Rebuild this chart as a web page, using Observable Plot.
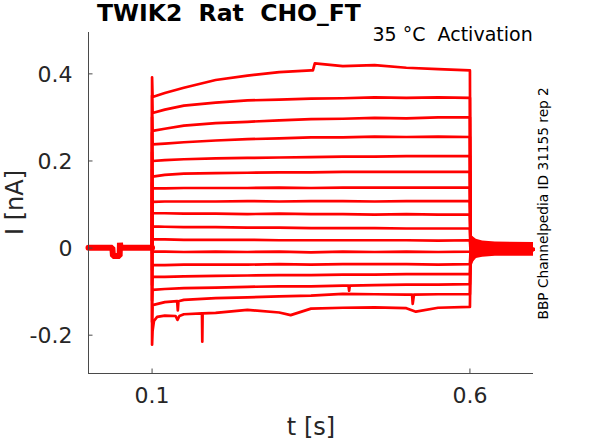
<!DOCTYPE html>
<html>
<head>
<meta charset="utf-8">
<script src="https://cdn.jsdelivr.net/npm/d3@7"></script>
<script src="https://cdn.jsdelivr.net/npm/@observablehq/plot@0.6"></script>
<style>
  html, body { margin: 0; padding: 0; background: #fff; }
  svg text { font-family: "DejaVu Sans", sans-serif; }
</style>
</head>
<body>
<div id="chart"></div>
<script>
// ---- Data ----
const xTicks = [0.1, 0.6];
const yTicks = [-0.2, 0, 0.2, 0.4];
const xDomain = [0, 0.7];
const yDomain = [-0.288, 0.495];

// holding baseline before the step (all sweeps overlap)
const baseT = [0, 0.0375, 0.0385, 0.049, 0.0495, 0.0505, 0.1];
const baseV = [0.0005, 0.0005, -0.018, -0.018, 0.012, 0.0005, 0.0005];

// capacitive peak at step onset, per sweep
const onsetPeak = [0.392, 0.35, 0.30, 0.265, 0.22, 0.18, 0.15, 0.115, 0.085, 0.055, 0.02, -0.012, -0.05, -0.085, -0.12, -0.17, -0.222];

// step current levels at these times, per sweep
const stepTimes = [0.1008, 0.12, 0.15, 0.2, 0.25, 0.3, 0.35, 0.4, 0.45, 0.5, 0.55, 0.6];
const traceLevels = [
  [0.347, 0.356, 0.368, 0.386, 0.396, 0.404, 0.408, 0.418, 0.420, 0.414, 0.411, 0.408],
  [0.310, 0.318, 0.327, 0.334, 0.339, 0.341, 0.343, 0.344, 0.346, 0.345, 0.346, 0.345],
  [0.269, 0.274, 0.281, 0.287, 0.290, 0.293, 0.296, 0.297, 0.299, 0.298, 0.300, 0.300],
  [0.238, 0.240, 0.243, 0.247, 0.250, 0.252, 0.254, 0.254, 0.256, 0.255, 0.256, 0.255],
  [0.200, 0.202, 0.204, 0.206, 0.207, 0.208, 0.209, 0.210, 0.210, 0.211, 0.211, 0.211],
  [0.164, 0.168, 0.171, 0.172, 0.173, 0.174, 0.174, 0.175, 0.175, 0.175, 0.175, 0.175],
  [0.137, 0.137, 0.138, 0.138, 0.138, 0.139, 0.138, 0.139, 0.139, 0.139, 0.139, 0.139],
  [0.106, 0.107, 0.107, 0.107, 0.108, 0.107, 0.108, 0.108, 0.107, 0.108, 0.108, 0.108],
  [0.080, 0.080, 0.079, 0.079, 0.078, 0.079, 0.078, 0.078, 0.077, 0.078, 0.077, 0.077],
  [0.050, 0.049, 0.048, 0.048, 0.047, 0.047, 0.046, 0.046, 0.046, 0.045, 0.045, 0.045],
  [0.020, 0.020, 0.019, 0.019, 0.019, 0.018, 0.018, 0.018, 0.018, 0.018, 0.017, 0.018],
  [-0.008, -0.008, -0.009, -0.008, -0.009, -0.008, -0.010, -0.008, -0.009, -0.008, -0.009, -0.008],
  [-0.039, -0.039, -0.038, -0.038, -0.038, -0.037, -0.038, -0.037, -0.037, -0.037, -0.038, -0.037],
  [-0.066, -0.066, -0.065, -0.064, -0.063, -0.062, -0.062, -0.061, -0.061, -0.060, -0.060, -0.060],
  [-0.096, -0.094, -0.092, -0.091, -0.089, -0.088, -0.088, -0.086, -0.085, -0.084, -0.084, -0.083],
  [-0.131, -0.124, -0.119, -0.115, -0.113, -0.111, -0.109, -0.105, -0.106, -0.107, -0.106, -0.106],
  [-0.190, -0.155, -0.152, -0.149, -0.142, -0.148, -0.139, -0.137, -0.136, -0.138, -0.137, -0.135]
];

// isolated glitches / extra readings: [sweep index, t, value]
const glitches = [
  [0, 0.353, 0.408], [0, 0.356, 0.424],
  [14, 0.409, -0.086], [14, 0.410, -0.098], [14, 0.411, -0.086],
  [15, 0.1395, -0.122], [15, 0.1405, -0.143], [15, 0.1415, -0.122],
  [15, 0.509, -0.107], [15, 0.510, -0.128], [15, 0.512, -0.107],
  [16, 0.103, -0.167], [16, 0.108, -0.158], [16, 0.137, -0.156], [16, 0.140, -0.165], [16, 0.143, -0.156],
  [16, 0.1785, -0.150], [16, 0.179, -0.215], [16, 0.1795, -0.150],
  [16, 0.318, -0.154], [16, 0.515, -0.146]
];

// tail currents after the step, per sweep
const tailTimes = [0.6008, 0.604, 0.61, 0.62, 0.64, 0.7];
const tailLevels = [
  [0.028, 0.020, 0.012, 0.006, 0.002, -0.002],
  [0.024, 0.017, 0.010, 0.005, 0.001, -0.002],
  [0.020, 0.014, 0.008, 0.004, 0.001, -0.003],
  [0.016, 0.011, 0.006, 0.003, 0.000, -0.003],
  [0.013, 0.009, 0.005, 0.002, 0.000, -0.003],
  [0.010, 0.007, 0.004, 0.001, -0.001, -0.003],
  [0.007, 0.005, 0.002, 0.000, -0.001, -0.003],
  [0.004, 0.003, 0.001, -0.001, -0.002, -0.003],
  [0.002, 0.001, 0.000, -0.001, -0.002, -0.003],
  [0.000, -0.001, -0.002, -0.002, -0.003, -0.003],
  [-0.003, -0.003, -0.003, -0.003, -0.003, -0.003],
  [-0.006, -0.005, -0.004, -0.004, -0.003, -0.003],
  [-0.010, -0.008, -0.006, -0.005, -0.004, -0.003],
  [-0.015, -0.011, -0.008, -0.006, -0.004, -0.004],
  [-0.020, -0.015, -0.010, -0.007, -0.005, -0.004],
  [-0.028, -0.020, -0.013, -0.008, -0.005, -0.004],
  [-0.038, -0.027, -0.017, -0.010, -0.006, -0.004]
];

// noise envelope of the overlapping tails
const tailBandT = [0.6, 0.605, 0.61, 0.62, 0.64, 0.7];
const tailBandHi = [0.034, 0.026, 0.020, 0.016, 0.014, 0.013];
const tailBandLo = [-0.044, -0.032, -0.024, -0.021, -0.019, -0.019];

// ---- Build tables ----
const sweeps = [];
traceLevels.forEach((lv, i) => {
  const pts = [{t: 0.1, v: 0.0005}, {t: 0.1, v: onsetPeak[i]}];
  const mid = [];
  stepTimes.forEach((t, k) => mid.push({t, v: lv[k]}));
  glitches.filter(g => g[0] === i).forEach(g => mid.push({t: g[1], v: g[2]}));
  mid.sort((a, b) => a.t - b.t);
  pts.push(...mid);
  tailTimes.forEach((t, k) => pts.push({t, v: tailLevels[i][k]}));
  pts.forEach(p => sweeps.push({sweep: i, t: p.t, v: p.v}));
});
const base = baseT.map((t, k) => ({t, v: baseV[k]}));
const band = tailBandT.map((t, k) => ({t, hi: tailBandHi[k], lo: tailBandLo[k]}));

const red = "#ff0000";
const axisColor = "#4a4a4a";
const fmt = d => String(d);
const xTickLen = (xDomain[1] - xDomain[0]) * 4.5 / 445;
const yTickLen = (yDomain[1] - yDomain[0]) * 4.5 / 341;

const svg = Plot.plot({
  width: 589,
  height: 442,
  marginLeft: 88,
  marginRight: 56,
  marginTop: 32,
  marginBottom: 69,
  x: {domain: xDomain},
  y: {domain: yDomain},
  style: {fontFamily: "DejaVu Sans", fontSize: "22px", color: "#262626", background: "white", overflow: "visible"},
  marks: [
    Plot.areaY(band, {x: "t", y1: "lo", y2: "hi", fill: red, curve: "linear"}),
    Plot.line(base, {x: "t", y: "v", stroke: red, strokeWidth: 6, strokeLinejoin: "miter"}),
    Plot.line(sweeps, {x: "t", y: "v", z: "sweep", stroke: red, strokeWidth: 2.7, strokeLinejoin: "round"}),
    Plot.ruleX([xDomain[0]], {stroke: axisColor}),
    Plot.ruleY([yDomain[0]], {stroke: axisColor}),
    Plot.ruleY(yTicks, {x1: xDomain[0], x2: xDomain[0] + xTickLen, stroke: axisColor}),
    Plot.ruleX(xTicks, {y1: yDomain[0], y2: yDomain[0] + yTickLen, stroke: axisColor}),
    Plot.axisX(xTicks, {tickSize: 0, tickPadding: 14, label: null, tickFormat: fmt, fontSize: 22}),
    Plot.axisY(yTicks, {tickSize: 0, tickPadding: 16, label: null, tickFormat: fmt, fontSize: 22, dy: 1})
  ]
});

const s = d3.select(svg);
s.append("text").attr("x", 97).attr("y", 20.5).attr("text-anchor", "start")
  .attr("font-size", 23.5).attr("font-weight", "bold").attr("fill", "#000")
  .style("white-space", "pre")
  .text("TWIK2  Rat  CHO_FT");
s.append("text").attr("x", 372.5).attr("y", 40.7).attr("text-anchor", "start")
  .attr("font-size", 19).attr("fill", "#000").style("white-space", "pre")
  .text("35 °C  Activation");
s.append("text").attr("transform", "translate(23.2,202.5) rotate(-90)")
  .attr("text-anchor", "middle").attr("font-size", 24).attr("fill", "#262626")
  .text("I [nA]");
s.append("text").attr("x", 311).attr("y", 435)
  .attr("text-anchor", "middle").attr("font-size", 24).attr("fill", "#262626")
  .text("t [s]");
s.append("text").attr("transform", "translate(547.5,203.3) rotate(-90)")
  .attr("text-anchor", "middle").attr("font-size", 13.7).attr("fill", "#000")
  .text("BBP Channelpedia ID 31155 rep 2");

document.getElementById("chart").appendChild(svg);
</script>
</body>
</html>
